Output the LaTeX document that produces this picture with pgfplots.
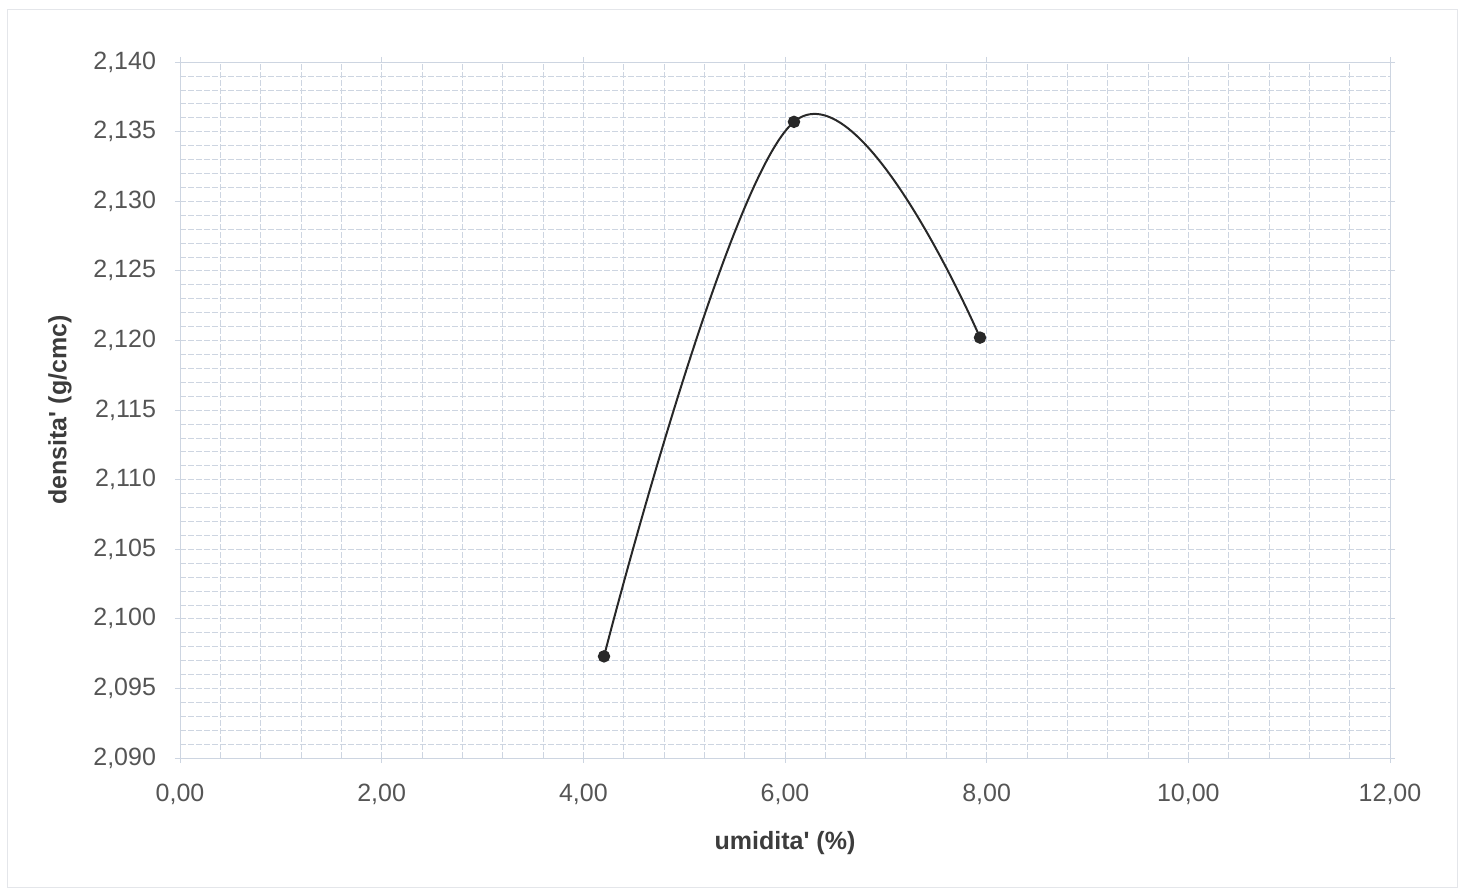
\documentclass[border=0pt]{standalone}
\usepackage{fontspec}
\setmainfont{Liberation Sans}
\usepackage{pgfplots}
\pgfplotsset{compat=1.18}
\definecolor{gridc}{RGB}{205,213,225}
\definecolor{tickc}{RGB}{85,85,85}
\definecolor{labc}{RGB}{60,60,60}
\definecolor{linec}{RGB}{40,40,40}
\begin{document}
\begin{tikzpicture}
\path[use as bounding box] (-90pt,-67.5pt) rectangle (642.5pt,379pt);
\draw[color={rgb,255:red,228;green,230;blue,234}, line width=0.5pt] (-86pt,-64.5pt) rectangle (638.5pt,374pt);
\begin{axis}[
  scale only axis,
  width=605pt, height=348pt,
  xmin=0, xmax=12, ymin=2.090, ymax=2.140,
  xtick={0,2,...,12},
  ytick={2.090,2.095,...,2.1401},
  minor x tick num=4,
  minor y tick num=4,
  grid=both,
  major grid style={color=gridc, dash pattern=on 3pt off 1pt, line width=0.3pt},
  minor grid style={color=gridc, dash pattern=on 3pt off 1pt, line width=0.3pt},
  axis line style={color=gridc, line width=0.4pt},
  tick align=outside,
  major tick length=2.5pt,
  minor tick length=0pt,
  tick style={color=gridc, line width=0.4pt},
  /pgf/number format/assume math mode=true,
  xticklabel style={/pgf/number format/fixed, /pgf/number format/fixed zerofill, /pgf/number format/precision=2, /pgf/number format/use comma, /pgf/number format/1000 sep={}, yshift=-7pt},
  yticklabel style={/pgf/number format/fixed, /pgf/number format/fixed zerofill, /pgf/number format/precision=3, /pgf/number format/use comma, /pgf/number format/1000 sep={}, xshift=-6pt},
  scaled y ticks=false,
  scaled x ticks=false,
  ticklabel style={font=\fontsize{12.5}{15}\selectfont, color=tickc},
  xlabel={umidita\textquotesingle{} (\%)},
  ylabel={densita\textquotesingle{} (g/cmc)},
  every axis x label/.style={at={(axis description cs:0.5,0)}, anchor=center, yshift=-42.5pt, font=\fontsize{12.5}{15}\selectfont\bfseries, color=labc},
  every axis y label/.style={at={(axis description cs:0,0.5)}, anchor=center, xshift=-60pt, rotate=90, font=\fontsize{12.5}{15}\selectfont\bfseries, color=labc},
]
\addplot[color=linec, line width=1pt, smooth, tension=0.65, mark=*, mark size=2.6pt, mark options={fill=linec, draw=linec}]
  coordinates {(4.205,2.0973) (6.089,2.1357) (7.934,2.1202)};
\end{axis}
\end{tikzpicture}
\end{document}
